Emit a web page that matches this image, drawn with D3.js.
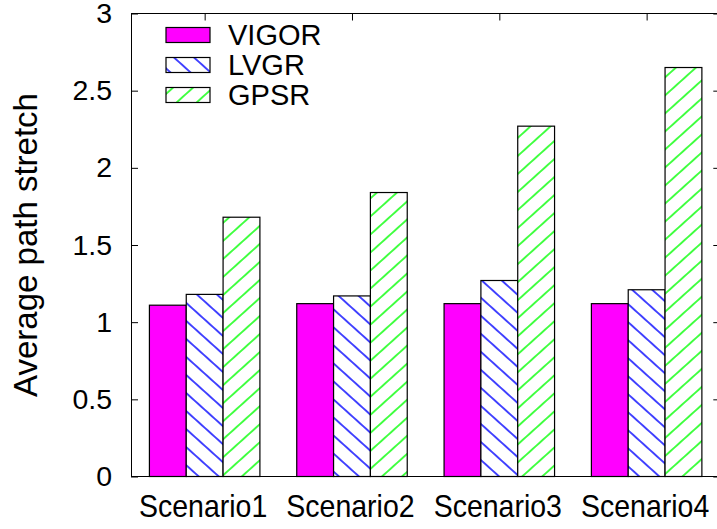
<!DOCTYPE html>
<html>
<head>
<meta charset="utf-8">
<script src="https://cdn.jsdelivr.net/npm/d3@7"></script>
<style>
  html, body { margin: 0; padding: 0; background: #fff; }
  svg { display: block; }
  text { font-family: "Liberation Sans", Arial, Helvetica, sans-serif; fill: #000; }
</style>
</head>
<body>
<svg id="chart" width="717" height="529"></svg>
<script>
// Average path stretch per scenario for each routing protocol
const categories = ["Scenario1", "Scenario2", "Scenario3", "Scenario4"];
const seriesNames = ["VIGOR", "LVGR", "GPSR"];
const vigor = [1.11, 1.12, 1.12, 1.12];
const lvgr  = [1.18, 1.17, 1.27, 1.21];
const gpsr  = [1.68, 1.84, 2.27, 2.65];
const yTicks = [0, 0.5, 1, 1.5, 2, 2.5, 3];
const yTickLabels = ["0", "0.5", "1", "1.5", "2", "2.5", "3"];
const yTitle = "Average path stretch";

const series = [vigor, lvgr, gpsr];

const W = 717, H = 529;
const plotLeft = 131, plotRight = 720.3, plotTop = 13.5, plotBottom = 476.5;
const tickLen = 7;

const svg = d3.select("#chart");
const defs = svg.append("defs");

// Hatch fills, anchored to the page so stripes run continuously
function hatch(id, color, angle) {
  const p = defs.append("pattern")
    .attr("id", id)
    .attr("patternUnits", "userSpaceOnUse")
    .attr("width", 40)
    .attr("height", 13.4)
    .attr("patternTransform", `rotate(${angle})`);
  p.append("rect").attr("width", 40).attr("height", 13.4).attr("fill", "#fff");
  p.append("line")
    .attr("x1", -1).attr("x2", 41)
    .attr("y1", 6.7).attr("y2", 6.7)
    .attr("stroke", color)
    .attr("stroke-width", 1.3);
}
hatch("hatch-lvgr", "#0000ff", 42);
hatch("hatch-gpsr", "#00ff00", -42);

const fills = ["#ff00ff", "url(#hatch-lvgr)", "url(#hatch-gpsr)"];

const x = d3.scaleLinear().domain([-0.5, categories.length - 0.5]).range([plotLeft, plotRight]);
const y = d3.scaleLinear().domain([0, 3]).range([plotBottom, plotTop]);
const bw = (x(1) - x(0)) / 4;

// Bars
const g = svg.append("g");
series.forEach((vals, si) => {
  g.selectAll(null)
    .data(vals)
    .enter()
    .append("rect")
    .attr("x", (d, i) => x(i) + (si - 1.5) * bw)
    .attr("y", d => y(d))
    .attr("width", bw)
    .attr("height", d => y(0) - y(d))
    .attr("fill", fills[si])
    .attr("stroke", "#000")
    .attr("stroke-width", 1.2);
});

// Axes
const axisLeft = d3.axisLeft(y).tickValues(yTicks)
  .tickFormat((d, i) => yTickLabels[i]).tickSizeInner(-tickLen).tickSizeOuter(0).tickPadding(19);
const gl = svg.append("g").attr("transform", `translate(${plotLeft},0)`).call(axisLeft);
gl.select(".domain").attr("stroke", "#000");
gl.selectAll(".tick line").attr("stroke", "#000");
gl.selectAll("text").style("font-size", "28.5px").attr("font-family", null);

const axisRight = d3.axisRight(y).tickValues(yTicks).tickFormat("").tickSizeInner(-tickLen).tickSizeOuter(0);
const gr = svg.append("g").attr("transform", `translate(${plotRight},0)`).call(axisRight);
gr.select(".domain").attr("stroke", "#000");
gr.selectAll(".tick line").attr("stroke", "#000");

// Category labels, drawn slightly taller than wide
const labelStretch = 1.1;
const axisBottom = d3.axisBottom(x).tickValues(d3.range(categories.length))
  .tickFormat(i => categories[i]).tickSizeInner(0).tickSizeOuter(0);
const gb = svg.append("g").attr("transform", `translate(0,${plotBottom})`).call(axisBottom);
gb.select(".domain").attr("stroke", "#000").attr("d", `M${plotLeft},0H${W + 10}`);
gb.selectAll("text")
  .style("font-size", "28.5px").attr("font-family", null)
  .attr("dx", -2).attr("dy", 0)
  .attr("y", 40.2 / labelStretch)
  .attr("transform", `scale(1,${labelStretch})`);

const axisTop = d3.axisTop(x).tickValues(d3.range(categories.length))
  .tickFormat("").tickSizeInner(-tickLen).tickSizeOuter(0);
const gt = svg.append("g").attr("transform", `translate(0,${plotTop})`).call(axisTop);
gt.select(".domain").attr("stroke", "#000").attr("d", `M${plotLeft},0H${W + 10}`);
gt.selectAll(".tick line").attr("stroke", "#000");

// Y axis title
svg.append("text")
  .attr("transform", `translate(36.5,${(plotTop + plotBottom) / 2}) rotate(-90)`)
  .attr("text-anchor", "middle")
  .style("font-size", "33px")
  .text(yTitle);

// Legend
const legend = svg.append("g");
seriesNames.forEach((name, i) => {
  const ly = 27.5 + i * 30;
  legend.append("rect")
    .attr("x", 166).attr("y", ly)
    .attr("width", 44).attr("height", 15)
    .attr("fill", fills[i]).attr("stroke", "#000").attr("stroke-width", 1.2);
  legend.append("text")
    .attr("x", 228).attr("y", ly + 17.5)
    .style("font-size", "29px")
    .text(name);
});
</script>
</body>
</html>
